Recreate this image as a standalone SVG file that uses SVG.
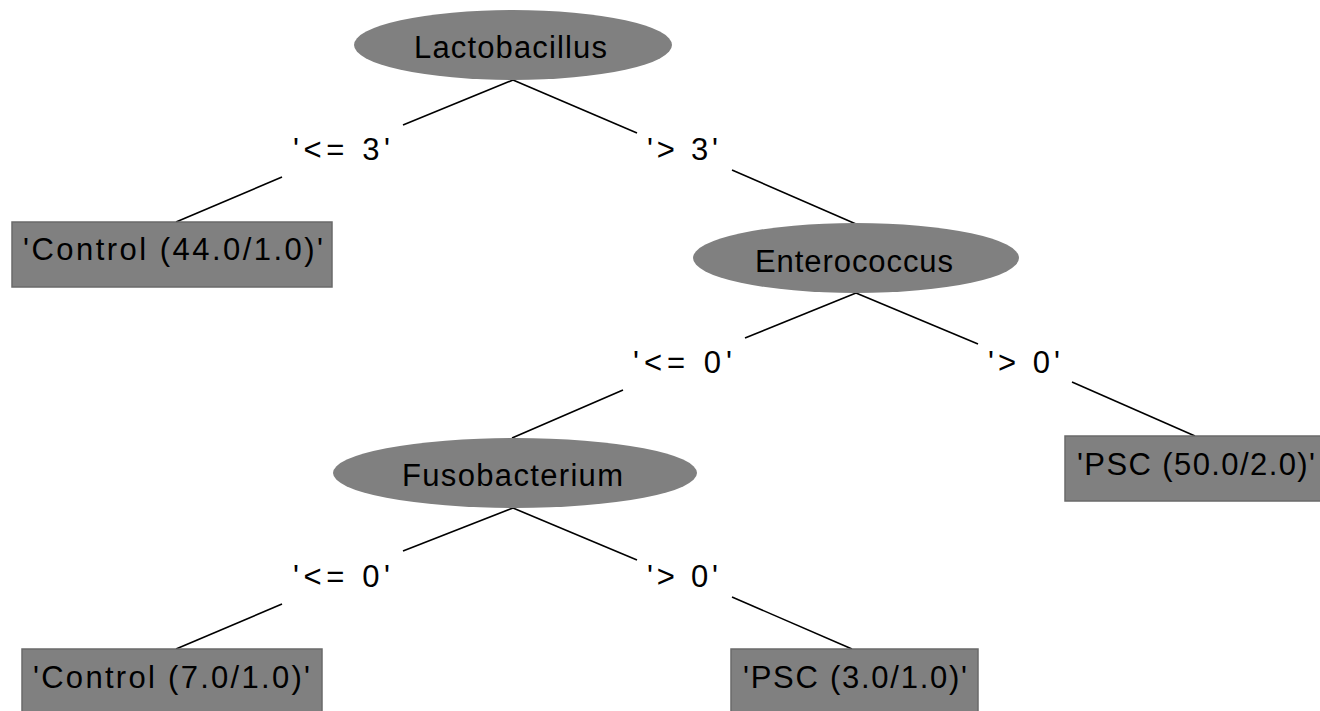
<svg xmlns="http://www.w3.org/2000/svg" width="1320" height="711" viewBox="0 0 1320 711">
<style>
.bg{fill:#ffffff}
.node ellipse{fill:#808080}
.leaf rect{fill:#808080;stroke:#6a6a6a;stroke-width:1.5}
text{font-family:"Liberation Sans","DejaVu Sans",sans-serif;font-size:31px;fill:#000}
.lbl{font-size:31px}
#edges line{stroke:#000;stroke-width:1.6}
</style>
<rect class="bg" x="0" y="0" width="1320" height="711"/>
<g id="edges">
<line x1="513" y1="80" x2="403" y2="125"/>
<line x1="282" y1="177" x2="176" y2="222"/>
<line x1="513" y1="80" x2="637" y2="133"/>
<line x1="732" y1="170" x2="856" y2="224"/>
<line x1="856" y1="293" x2="745" y2="338"/>
<line x1="623" y1="390" x2="512" y2="438"/>
<line x1="856" y1="293" x2="978" y2="344"/>
<line x1="1072" y1="382" x2="1195" y2="436"/>
<line x1="513" y1="508" x2="403" y2="551"/>
<line x1="282" y1="604" x2="176" y2="649"/>
<line x1="513" y1="508" x2="637" y2="560"/>
<line x1="732" y1="597" x2="852" y2="649"/>
<text class="lbl" x="293" y="160" textLength="97">'&lt;= 3'</text>
<text class="lbl" x="647" y="160" textLength="71">'&gt; 3'</text>
<text class="lbl" x="633" y="373" textLength="99">'&lt;= 0'</text>
<text class="lbl" x="988" y="373" textLength="72">'&gt; 0'</text>
<text class="lbl" x="293" y="587" textLength="97">'&lt;= 0'</text>
<text class="lbl" x="647" y="587" textLength="71">'&gt; 0'</text>
</g>
<g id="n-lactobacillus" class="node">
<ellipse cx="513" cy="45" rx="159" ry="35"/>
<text x="414" y="58" textLength="193">Lactobacillus</text>
</g>
<g id="n-control44" class="leaf">
<rect x="12" y="222" width="320" height="65"/>
<text x="23" y="260" textLength="300">'Control (44.0/1.0)'</text>
</g>
<g id="n-enterococcus" class="node">
<ellipse cx="856" cy="258" rx="163" ry="35"/>
<text x="755" y="272" textLength="198">Enterococcus</text>
</g>
<g id="n-psc50" class="leaf">
<rect x="1065" y="436" width="270" height="65"/>
<text x="1077" y="475" textLength="238">'PSC (50.0/2.0)'</text>
</g>
<g id="n-fusobacterium" class="node">
<ellipse cx="515" cy="473" rx="182" ry="35"/>
<text x="402" y="486" textLength="221">Fusobacterium</text>
</g>
<g id="n-control7" class="leaf">
<rect x="22" y="649" width="300" height="70"/>
<text x="33" y="688" textLength="277">'Control (7.0/1.0)'</text>
</g>
<g id="n-psc3" class="leaf">
<rect x="731" y="649" width="247" height="70"/>
<text x="743" y="688" textLength="224">'PSC (3.0/1.0)'</text>
</g>
</svg>
